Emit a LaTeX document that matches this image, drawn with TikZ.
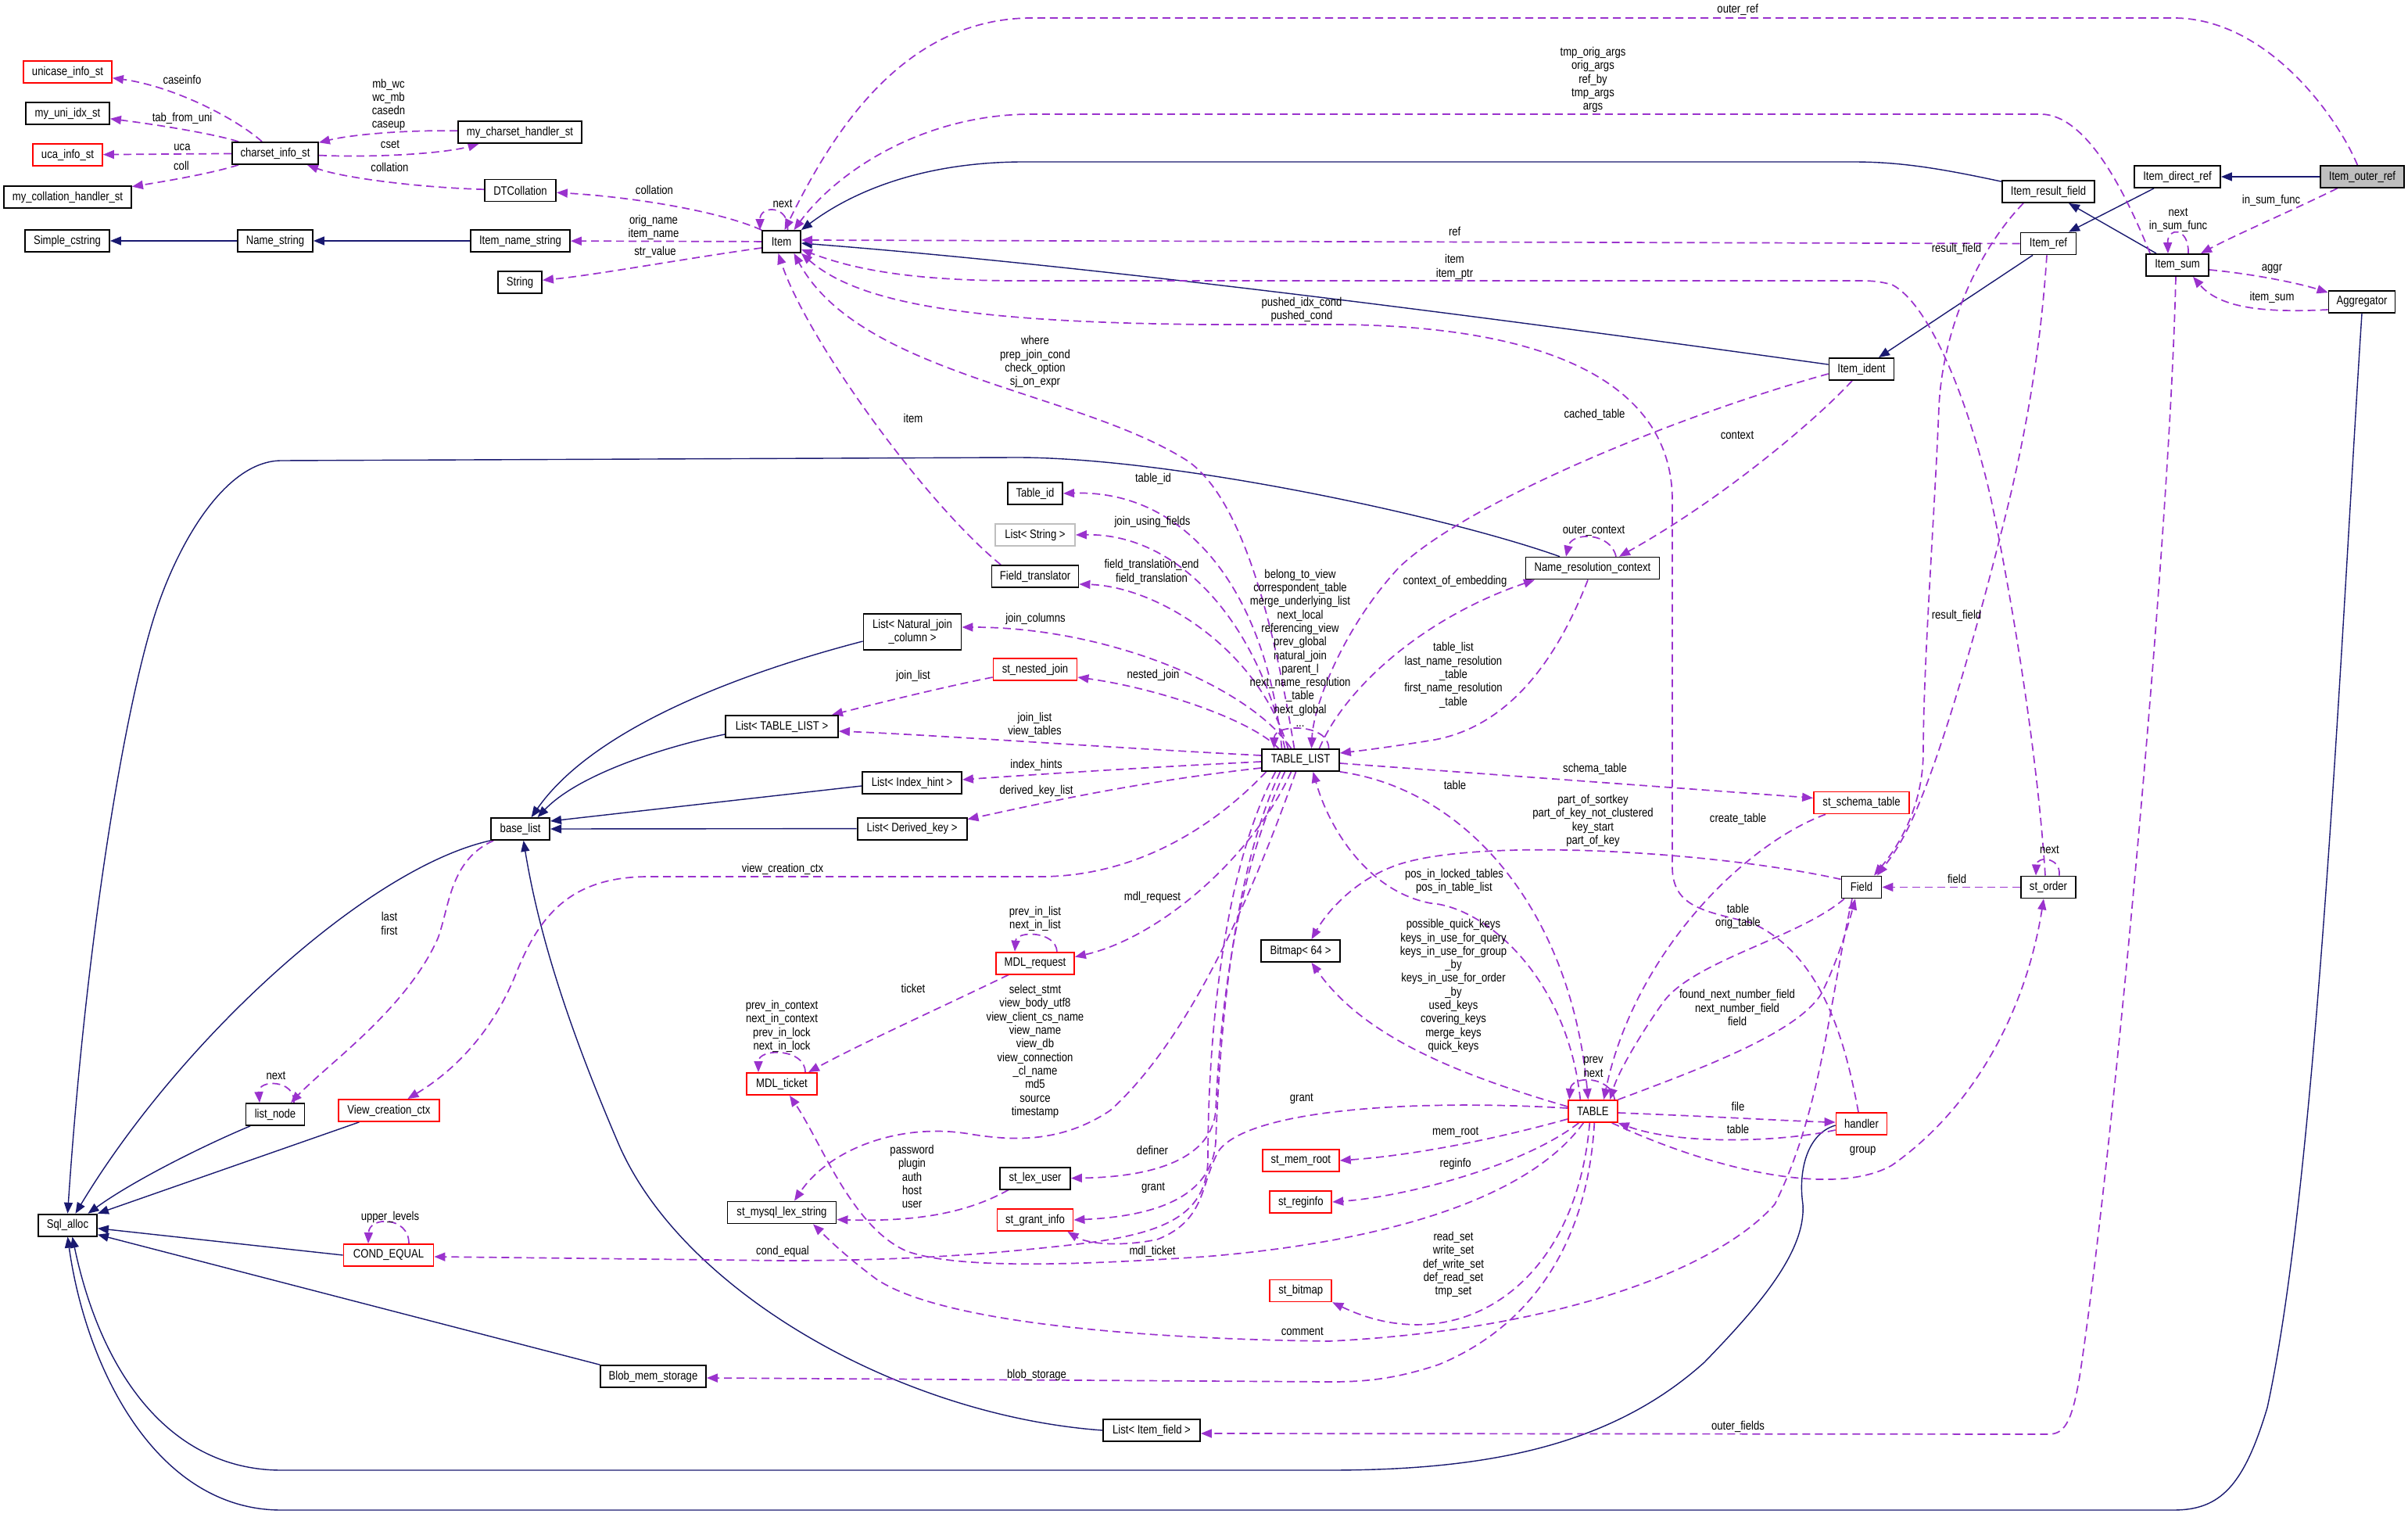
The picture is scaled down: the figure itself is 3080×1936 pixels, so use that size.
\documentclass[tikz,border=0pt]{standalone}
\usepackage{fontspec}
\setmainfont{Liberation Sans}[FakeStretch=0.84]
\usetikzlibrary{arrows.meta,calc}
\definecolor{navyc}{HTML}{191970}
\definecolor{purp}{HTML}{9A32CD}
\definecolor{redb}{HTML}{FF0000}
\definecolor{grayb}{HTML}{BFBFBF}
\newcommand\dfont{\fontsize{7.8pt}{8.65pt}\selectfont}
\pgfdeclarelayer{bgl}\pgfdeclarelayer{edgel}\pgfsetlayers{bgl,edgel,main}
\tikzset{
 cls/.style={draw=black, line width=0.9pt, fill=white, minimum height=14pt, inner sep=0pt, font=\dfont},
 redcls/.style={cls, draw=redb},
 lbl/.style={font=\dfont, align=center, inner sep=0pt},
 inh/.style={draw=navyc, line width=0.7pt, -{Triangle[length=7pt,width=5.5pt]}},
 dep/.style={draw=purp, line width=0.85pt, dash pattern=on 5pt off 3pt, -{Triangle[length=7pt,width=5.5pt]}},
}
\begin{document}
\begin{tikzpicture}[x=0.5pt,y=-0.5pt]
\begin{pgfonlayer}{bgl}\fill[white] (0,0) rectangle (3080,1936);\end{pgfonlayer}
\useasboundingbox (0,0) rectangle (3080,1936);
% ---------- nodes
\node[redcls, minimum width=56.5pt] (unicase) at (86.5,92) {unicase\_info\_st};
\node[cls, minimum width=53.5pt] (uniidx) at (86.5,145) {my\_uni\_idx\_st};
\node[redcls, minimum width=44.5pt] (uca) at (86.5,198) {uca\_info\_st};
\node[cls, minimum width=81.5pt] (collh) at (86.5,252) {my\_collation\_handler\_st};
\node[cls, minimum width=55pt] (charset) at (352,196) {charset\_info\_st};
\node[cls, minimum width=79pt] (csh) at (665,169) {my\_charset\_handler\_st};
\node[cls, minimum width=45.5pt] (dtc) at (665.5,243.5) {DTCollation};
\node[cls, minimum width=54pt] (scs) at (86,308) {Simple\_cstring};
\node[cls, minimum width=48pt] (nms) at (352,308) {Name\_string};
\node[cls, minimum width=63.5pt] (ins) at (665.5,308) {Item\_name\_string};
\node[cls, minimum width=28pt] (str) at (665,361) {String};
\node[cls, minimum width=24.5pt] (item) at (999.5,309) {Item};
\node[cls, minimum width=55pt] (idr) at (2785,226) {Item\_direct\_ref};
\node[cls, fill=grayb, minimum width=53.5pt] (ior) at (3021.5,226) {Item\_outer\_ref};
\node[cls, minimum width=59pt] (irf) at (2620,245) {Item\_result\_field};
\node[cls, minimum width=35.5pt] (iref) at (2620,311.5) {Item\_ref};
\node[cls, minimum width=40pt] (isum) at (2785,339) {Item\_sum};
\node[cls, minimum width=42.5pt] (aggr) at (3021,386) {Aggregator};
\node[cls, minimum width=41.5pt] (iid) at (2381,472) {Item\_ident};
\node[cls, minimum width=35pt] (tid) at (1324,631) {Table\_id};
\node[cls, draw=grayb, minimum width=51pt] (lstr) at (1324,684) {List< String >};
\node[cls, minimum width=55.5pt] (ftr) at (1324,737) {Field\_translator};
\node[cls, minimum width=85.5pt] (nrc) at (2037,726.6) {Name\_resolution\_context};
\node[cls, minimum width=62.5pt, minimum height=23pt, align=center] (lnjc) at (1167,808) {List< Natural\_join\\\_column >};
\node[redcls, minimum width=53.5pt] (snj) at (1324,856) {st\_nested\_join};
\node[cls, minimum width=72pt] (ltl) at (1000,929) {List< TABLE\_LIST >};
\node[cls, minimum width=49.5pt] (tl) at (1663.5,972) {TABLE\_LIST};
\node[cls, minimum width=63.5pt] (lih) at (1166.5,1001) {List< Index\_hint >};
\node[cls, minimum width=70pt] (ldk) at (1166.6,1059.6) {List< Derived\_key >};
\node[cls, minimum width=37.5pt] (bl) at (665.6,1060) {base\_list};
\node[cls, minimum width=50.5pt] (bmp) at (1663.5,1216) {Bitmap< 64 >};
\node[redcls, minimum width=61pt] (sst) at (2381,1026.4) {st\_schema\_table};
\node[cls, minimum width=25.5pt] (fld) at (2381,1134.4) {Field};
\node[cls, minimum width=35pt] (sord) at (2620,1134.4) {st\_order};
\node[redcls, minimum width=50pt] (mreq) at (1324,1231.6) {MDL\_request};
\node[redcls, minimum width=45pt] (mtk) at (1000,1386) {MDL\_ticket};
\node[cls, minimum width=37.5pt] (lnode) at (352,1425) {list\_node};
\node[redcls, minimum width=64.5pt] (vcc) at (497.4,1420) {View\_creation\_ctx};
\node[redcls, minimum width=31.5pt] (tbl) at (2037.3,1421) {TABLE};
\node[redcls, minimum width=32.5pt] (hdl) at (2381,1437) {handler};
\node[redcls, minimum width=49pt] (smr) at (1663.8,1484) {st\_mem\_root};
\node[cls, minimum width=45pt] (slu) at (1324,1506.6) {st\_lex\_user};
\node[redcls, minimum width=39.5pt] (sri) at (1663.8,1537) {st\_reginfo};
\node[cls, minimum width=69.5pt] (smls) at (1000,1550.5) {st\_mysql\_lex\_string};
\node[redcls, minimum width=48.5pt] (sgi) at (1324,1560) {st\_grant\_info};
\node[cls, minimum width=37.5pt] (sqa) at (86.5,1566.7) {Sql\_alloc};
\node[redcls, minimum width=57.5pt] (ceq) at (497,1605) {COND\_EQUAL};
\node[redcls, minimum width=39.5pt] (sbm) at (1663.8,1650.4) {st\_bitmap};
\node[cls, minimum width=67.5pt] (bms) at (835.5,1760) {Blob\_mem\_storage};
\node[cls, minimum width=62pt] (lif) at (1473,1829) {List< Item\_field >};
% ---------- labels
\node[lbl] (l1) at (233,102) {caseinfo};
\node[lbl] (l2) at (233,151) {tab\_from\_uni};
\node[lbl] (l3) at (233,188) {uca};
\node[lbl] (l4) at (232,212) {coll};
\node[lbl] (l5) at (497,134) {mb\_wc\\wc\_mb\\casedn\\caseup};
\node[lbl] (l6) at (499,185) {cset};
\node[lbl] (l7) at (498.5,214) {collation};
\node[lbl] (l8) at (837,242.5) {collation};
\node[lbl] (l9) at (1001,261) {next};
\node[lbl] (l10) at (836,291) {orig\_name\\item\_name};
\node[lbl] (l11) at (838,322.5) {str\_value};
\node[lbl] (l12) at (2222.7,12.4) {outer\_ref};
\node[lbl] (l13) at (2037.5,102.2) {tmp\_orig\_args\\orig\_args\\ref\_by\\tmp\_args\\args};
\node[lbl] (l14) at (1860.7,296.4) {ref};
\node[lbl] (l15) at (1860.5,341.4) {item\\item\_ptr};
\node[lbl] (l16) at (1665,396) {pushed\_idx\_cond\\pushed\_cond};
\node[lbl] (l17) at (2039.5,530.7) {cached\_table};
\node[lbl] (l18) at (2222,557) {context};
\node[lbl] (l19) at (1324,462.7) {where\\prep\_join\_cond\\check\_option\\sj\_on\_expr};
\node[lbl] (l20) at (1168,535) {item};
\node[lbl] (l21) at (1475,612) {table\_id};
\node[lbl] (l22) at (1474,667) {join\_using\_fields};
\node[lbl] (l23) at (1473,731.5) {field\_translation\_end\\field\_translation};
\node[lbl] (l24) at (1324.5,791) {join\_columns};
\node[lbl] (l25) at (1168,864) {join\_list};
\node[lbl] (l26) at (1475,863.5) {nested\_join};
\node[lbl] (l27) at (1323.5,927) {join\_list\\view\_tables};
\node[lbl] (l28) at (1325.5,978) {index\_hints};
\node[lbl] (l29) at (1325.5,1011.5) {derived\_key\_list};
\node[lbl] (l30) at (1001,1111.4) {view\_creation\_ctx};
\node[lbl] (l31) at (1474,1147.5) {mdl\_request};
\node[lbl] (l32) at (1324,1175) {prev\_in\_list\\next\_in\_list};
\node[lbl] (l33) at (1168,1263.5) {ticket};
\node[lbl] (l34) at (1324,1344.5) {select\_stmt\\view\_body\_utf8\\view\_client\_cs\_name\\view\_name\\view\_db\\view\_connection\\\_cl\_name\\md5\\source\\timestamp};
\node[lbl] (l35) at (1000,1312.3) {prev\_in\_context\\next\_in\_context\\prev\_in\_lock\\next\_in\_lock};
\node[lbl] (l36) at (1166.5,1504.7) {password\\plugin\\auth\\host\\user};
\node[lbl] (l37) at (1474,1470.5) {definer};
\node[lbl] (l38) at (1475,1519) {grant};
\node[lbl] (l39) at (1001,1600.7) {cond\_equal};
\node[lbl] (l40) at (1474,1600.7) {mdl\_ticket};
\node[lbl] (l41) at (1326,1758.6) {blob\_storage};
\node[lbl] (l42) at (2223,1824.6) {outer\_fields};
\node[lbl] (l43) at (499,1556) {upper\_levels};
\node[lbl] (l44) at (353,1376) {next};
\node[lbl] (l45) at (498,1181) {last\\first};
\node[lbl] (l46) at (2905,256.6) {in\_sum\_func};
\node[lbl] (l47) at (2786,281.3) {next\\in\_sum\_func};
\node[lbl] (l48) at (2906,344) {aggr};
\node[lbl] (l49) at (2906,380.6) {item\_sum};
\node[lbl] (l50) at (2502.5,318.4) {result\_field};
\node[lbl] (l51) at (2502.5,787) {result\_field};
\node[lbl] (l52) at (2038.5,678.6) {outer\_context};
\node[lbl] (l53) at (1861,743.6) {context\_of\_embedding};
\node[lbl] (l54) at (1663,828.75) {belong\_to\_view\\correspondent\_table\\merge\_underlying\_list\\next\_local\\referencing\_view\\prev\_global\\natural\_join\\parent\_l\\next\_name\_resolution\\\_table\\next\_global\\...};
\node[lbl] (l55) at (1859,863.3) {table\_list\\last\_name\_resolution\\\_table\\first\_name\_resolution\\\_table};
\node[lbl] (l56) at (2040,983) {schema\_table};
\node[lbl] (l57) at (1861,1004.4) {table};
\node[lbl] (l58) at (2037.5,1049.6) {part\_of\_sortkey\\part\_of\_key\_not\_clustered\\key\_start\\part\_of\_key};
\node[lbl] (l59) at (2223,1047.5) {create\_table};
\node[lbl] (l60) at (1860,1127) {pos\_in\_locked\_tables\\pos\_in\_table\_list};
\node[lbl] (l61) at (2223,1172) {table\\orig\_table};
\node[lbl] (l62) at (1859,1260.6) {possible\_quick\_keys\\keys\_in\_use\_for\_query\\keys\_in\_use\_for\_group\\\_by\\keys\_in\_use\_for\_order\\\_by\\used\_keys\\covering\_keys\\merge\_keys\\quick\_keys};
\node[lbl] (l63) at (2222,1288.7) {found\_next\_number\_field\\next\_number\_field\\field};
\node[lbl] (l64) at (2621.4,1086.5) {next};
\node[lbl] (l65) at (2503,1124) {field};
\node[lbl] (l66) at (2038,1364.3) {prev\\next};
\node[lbl] (l67) at (1664.8,1405) {grant};
\node[lbl] (l68) at (2223,1415) {file};
\node[lbl] (l69) at (1861.7,1447.7) {mem\_root};
\node[lbl] (l70) at (2223,1444.4) {table};
\node[lbl] (l71) at (1861.7,1488.3) {reginfo};
\node[lbl] (l72) at (1859,1617) {read\_set\\write\_set\\def\_write\_set\\def\_read\_set\\tmp\_set};
\node[lbl] (l73) at (1665.7,1702.7) {comment};
\node[lbl] (l74) at (2382.7,1471.7) {group};
% ---------- edges
\begin{pgfonlayer}{edgel}
% inheritance
\draw[inh] (nms) -- (scs);
\draw[inh] (ins) -- (nms);
\draw[inh] (irf) .. controls (2480,215) and (2430,207) .. (2370,207) -- (1310,207) .. controls (1180,207) and (1090,245) .. (item.north east);
\draw[inh] (iid) .. controls (1900,405) and (1400,340) .. ([yshift=-1pt]item.east);
\draw[inh] ([xshift=7pt]isum.north west) -- ([xshift=13pt]irf.south);
\draw[inh] ([xshift=-10pt]iref.south) -- ([xshift=11pt]iid.north);
\draw[inh] ([xshift=-15pt]idr.south) -- ([xshift=13pt]iref.north);
\draw[inh] (ior) -- (idr);
\draw[inh] ([xshift=-21pt]nrc.north) .. controls (1850,660) and (1500,585) .. (1300,585) -- (360,589) .. controls (290,589) and (230,690) .. (200,780) .. controls (160,900) and (110,1200) .. (sqa.north);
\draw[inh] ([xshift=-16pt]lnode.south) .. controls (260,1465) and (170,1510) .. ([xshift=13pt]sqa.north);
\draw[inh] ([xshift=-19pt]vcc.south) -- (sqa.north east);
\draw[inh] (ceq.west) -- ([yshift=-2pt]sqa.east);
\draw[inh] (bms.north west) -- ([yshift=-6pt]sqa.east);
\draw[inh] (bl.south west) .. controls (470,1110) and (230,1330) .. ([xshift=5pt]sqa.north);
\draw[inh] (lif.west) .. controls (1150,1810) and (870,1650) .. (790,1460) .. controls (730,1320) and (690,1200) .. ([xshift=2pt]bl.south);
\draw[inh] (aggr.south) .. controls (2995,800) and (2965,1500) .. (2900,1800) .. controls (2870,1900) and (2840,1931) .. (2780,1931) -- (360,1931) .. controls (200,1931) and (110,1750) .. (sqa.south);
\draw[inh] ([yshift=-1pt]hdl.west) .. controls (2310,1450) and (2300,1500) .. (2306,1540) .. controls (2310,1600) and (2250,1670) .. (2180,1742) .. controls (2060,1850) and (1900,1880) .. (1700,1880) -- (360,1880) .. controls (220,1880) and (130,1760) .. ([xshift=3pt]sqa.south);
\draw[inh] ([yshift=-6pt]lnjc.west) .. controls (950,860) and (760,930) .. ([xshift=7pt]bl.north);
\draw[inh] ([yshift=-5pt]ltl.west) .. controls (850,955) and (740,990) .. ([xshift=11pt]bl.north);
\draw[inh] ([yshift=-2pt]lih.west) -- ([yshift=5pt]bl.east);
\draw[inh] (ldk.west) -- (bl.east);
% charset group
\draw[dep] (charset) .. controls (300,150) and (220,110) .. (unicase);
\draw[dep] (charset) .. controls (270,170) and (190,158) .. (uniidx);
\draw[dep] (charset) -- (uca);
\draw[dep] (charset) .. controls (270,222) and (210,232) .. (collh);
\draw[dep] (csh) .. controls (520,166) and (450,172) .. (charset);
\draw[dep] (charset) .. controls (480,202) and (570,196) .. (csh);
\draw[dep] (dtc) .. controls (540,240) and (440,228) .. (charset);
% Item
\draw[dep] (item.north west) .. controls (920,270) and (810,252) .. (dtc);
\draw[dep] (item) -- (ins);
\draw[dep] ([yshift=-4pt]item.west) .. controls (880,330) and (760,352) .. (str);
\draw[dep] ([xshift=4pt]item.north) .. controls (1010,262) and (972,262) .. ([xshift=-1pt]item.north west);
\draw[dep] (ior) .. controls (2990,150) and (2900,23) .. (2780,23) -- (1320,23) .. controls (1150,23) and (1060,180) .. ([xshift=2pt]item.north);
\draw[dep] ([xshift=3pt]isum.north west) .. controls (2720,250) and (2670,146) .. (2610,146) -- (1320,146) .. controls (1180,146) and (1070,220) .. ([xshift=8pt]item.north);
\draw[dep] (iref.west) -- ([yshift=1pt]item.east);
\draw[dep] ([xshift=-2pt]sord.north) .. controls (2605,950) and (2570,750) .. (2547,640) .. controls (2520,520) and (2470,390) .. (2420,364) .. controls (2405,360) and (2395,359) .. (2380,359) -- (1300,359) .. controls (1150,359) and (1080,340) .. ([yshift=-5pt]item.east);
\draw[dep] ([xshift=-2pt]hdl.north) .. controls (2360,1330) and (2330,1220) .. (2240,1180) .. controls (2180,1165) and (2140,1160) .. (2139,1110) -- (2139,640) .. controls (2139,500) and (2000,415) .. (1700,415) -- (1540,415) .. controls (1250,412) and (1100,390) .. (item.south east);
\draw[dep] ([xshift=-4pt]tl.north) .. controls (1630,800) and (1590,640) .. (1520,590) .. controls (1380,500) and (1100,480) .. ([xshift=8pt]item.south);
\draw[dep] ([xshift=-22pt]ftr.north) .. controls (1180,640) and (1030,430) .. ([xshift=-2pt]item.south);
% Item family
\draw[dep] ([xshift=-16pt]ior.south) .. controls (2930,270) and (2860,300) .. ([xshift=15pt]isum.north);
\draw[dep] ([xshift=7pt]isum.north) .. controls (2800,290) and (2772,290) .. ([xshift=-6pt]isum.north);
\draw[dep] ([yshift=-3pt]isum.east) .. controls (2880,350) and (2940,362) .. ([yshift=-1.5pt]aggr.north west);
\draw[dep] ([yshift=-5pt]aggr.west) .. controls (2900,400) and (2840,395) .. ([xshift=10pt]isum.south);
\draw[dep] ([xshift=-16pt]irf.south) .. controls (2530,320) and (2485,420) .. (2480,520) .. controls (2475,650) and (2460,850) .. (2460,960) .. controls (2460,1030) and (2430,1080) .. ([xshift=8pt]fld.north);
\draw[dep] ([xshift=-1pt]iref.south) .. controls (2610,450) and (2590,560) .. (2565,660) .. controls (2530,800) and (2480,980) .. (2440,1060) .. controls (2425,1090) and (2412,1105) .. ([xshift=10pt]fld.north);
\draw[dep] ([xshift=-1pt]isum.south) .. controls (2775,700) and (2700,1500) .. (2660,1760) .. controls (2650,1820) and (2640,1834) .. (2620,1834) -- ([yshift=-2pt]lif.east);
\draw[dep] ([xshift=-6pt]iid.south) .. controls (2320,540) and (2200,640) .. ([xshift=17pt]nrc.north);
\draw[dep] ([yshift=-3pt]iid.west) .. controls (2150,530) and (1880,640) .. (1790,725) .. controls (1720,800) and (1680,900) .. ([xshift=7pt]tl.north);
% name resolution / table list
\draw[dep] ([xshift=15pt]nrc.north) .. controls (2060,680) and (2010,680) .. ([xshift=-17pt]nrc.north);
\draw[dep] ([xshift=12pt]tl.north) .. controls (1720,880) and (1820,790) .. ([xshift=-37pt]nrc.south);
\draw[dep] ([xshift=-3pt]nrc.south) .. controls (1985,860) and (1920,930) .. (1835,946) .. controls (1780,955) and (1740,960) .. ([yshift=4.5pt]tl.east);
\draw[dep] ([xshift=18pt]tl.north) .. controls (1700,925) and (1630,925) .. ([xshift=-17pt]tl.north);
\draw[dep] ([xshift=-12pt]tl.north) .. controls (1620,760) and (1520,626) .. (tid.east);
\draw[dep] ([xshift=-10pt]tl.north) .. controls (1610,800) and (1510,682) .. (lstr.east);
\draw[dep] ([xshift=-8pt]tl.north) .. controls (1610,830) and (1480,750) .. ([yshift=-5pt]ftr.east);
\draw[dep] ([xshift=-6pt]tl.north) .. controls (1600,880) and (1420,802) .. ([yshift=3pt]lnjc.east);
\draw[dep] ([xshift=-14pt]tl.north) .. controls (1600,920) and (1480,880) .. ([yshift=-5pt]snj.east);
\draw[dep] ([yshift=-5pt]snj.west) .. controls (1200,880) and (1120,900) .. ([xshift=32pt]ltl.north);
\draw[dep] ([yshift=3pt]tl.west) .. controls (1400,955) and (1200,940) .. ([yshift=-3pt]ltl.east);
\draw[dep] ([yshift=-1pt]tl.west) .. controls (1450,982) and (1300,992) .. ([yshift=2pt]lih.east);
\draw[dep] ([yshift=-5pt]tl.west) .. controls (1450,1000) and (1320,1030) .. ([yshift=6pt]ldk.east);
\draw[dep] ([xshift=-22pt]tl.south) .. controls (1560,1050) and (1460,1121) .. (1330,1121) -- (830,1121) .. controls (730,1121) and (690,1170) .. (660,1245) .. controls (630,1320) and (580,1370) .. ([xshift=12pt]vcc.north);
\draw[dep] ([xshift=2pt]bl.south west) .. controls (575,1100) and (575,1160) .. (560,1200) .. controls (520,1290) and (420,1360) .. ([xshift=10pt]lnode.north);
\draw[dep] ([xshift=12pt]lnode.north) .. controls (378,1380) and (330,1380) .. ([xshift=-10pt]lnode.north);
\draw[dep] ([xshift=13pt]ceq.north) .. controls (523,1555) and (472,1555) .. ([xshift=-13pt]ceq.north);
\draw[dep] ([xshift=-6pt]tl.south) .. controls (1600,1100) and (1480,1200) .. ([yshift=4pt]mreq.east);
\draw[dep] ([xshift=14pt]mreq.north) .. controls (1350,1190) and (1300,1190) .. ([xshift=-13pt]mreq.north);
\draw[dep] ([xshift=-17pt]mreq.south) .. controls (1200,1290) and (1100,1335) .. ([xshift=17pt]mtk.north);
\draw[dep] ([xshift=15pt]mtk.north) .. controls (1030,1340) and (970,1340) .. ([xshift=-15pt]mtk.north);
\draw[dep] ([xshift=-3pt]tl.south) .. controls (1600,1150) and (1520,1330) .. (1420,1420) .. controls (1360,1460) and (1300,1460) .. (1240,1450) .. controls (1150,1435) and (1060,1470) .. ([xshift=8pt]smls.north);
\draw[dep] ([xshift=-10pt]tl.south) .. controls (1580,1120) and (1560,1300) .. (1555,1420) .. controls (1550,1480) and (1480,1505) .. (slu.east);
\draw[dep] ([xshift=-13pt]tl.south) .. controls (1575,1120) and (1560,1330) .. (1555,1460) .. controls (1550,1530) and (1480,1555) .. (sgi.east);
\draw[dep] ([xshift=-16pt]tl.south) .. controls (1560,1120) and (1545,1350) .. (1545,1480) .. controls (1545,1560) and (1480,1580) .. (1360,1593) .. controls (1250,1605) and (1150,1612) .. (1000,1612) -- ([yshift=-1pt]ceq.east);
\draw[dep] ([xshift=-17pt]slu.south) .. controls (1230,1555) and (1160,1562) .. ([yshift=-4.5pt]smls.east);
% TABLE
\draw[dep] (tl.south east) .. controls (1880,1010) and (2010,1170) .. ([xshift=-3pt]tbl.north);
\draw[dep] ([xshift=-8pt]tbl.north) .. controls (2005,1250) and (1900,1160) .. (1830,1155) .. controls (1750,1140) and (1700,1060) .. ([xshift=8pt]tl.south);
\draw[dep] ([yshift=3pt]tbl.west) .. controls (1850,1370) and (1740,1320) .. ([xshift=7pt]bmp.south);
\draw[dep] ([yshift=5pt]fld.west) .. controls (2200,1090) and (1900,1070) .. (1790,1105) .. controls (1730,1125) and (1695,1170) .. ([xshift=7pt]bmp.north);
\draw[dep] ([xshift=-23pt]sst.south) .. controls (2230,1080) and (2090,1220) .. ([xshift=7pt]tbl.north);
\draw[dep] ([yshift=-2pt]tl.east) -- ([yshift=3pt]sst.west);
\draw[dep] ([xshift=-11pt]fld.south) .. controls (2300,1200) and (2160,1230) .. (2125,1285) .. controls (2100,1320) and (2070,1370) .. ([xshift=11pt]tbl.north);
\draw[dep] (tbl.north east) .. controls (2180,1365) and (2300,1320) .. (2330,1270) .. controls (2350,1230) and (2365,1180) .. ([xshift=-4pt]fld.south);
\draw[dep] ([xshift=14pt]tbl.north) .. controls (2060,1375) and (2010,1375) .. ([xshift=-15pt]tbl.north);
\draw[dep] ([yshift=-5pt]tbl.west) .. controls (1900,1460) and (1800,1478) .. (smr.east);
\draw[dep] ([xshift=-9pt]tbl.south) .. controls (1950,1490) and (1800,1530) .. (sri.east);
\draw[dep] ([xshift=-2pt]tbl.south) .. controls (2015,1650) and (1860,1740) .. (sbm.south east);
\draw[dep] ([xshift=-6pt]tbl.south) .. controls (1950,1540) and (1750,1590) .. (1540,1607) .. controls (1400,1616) and (1230,1625) .. (1160,1600) .. controls (1090,1570) and (1050,1460) .. ([xshift=5pt]mtk.south);
\draw[dep] ([xshift=1pt]tbl.south) .. controls (2030,1600) and (1950,1700) .. (1840,1745) .. controls (1780,1765) and (1740,1767) .. (1700,1767) -- ([yshift=-1pt]bms.east);
\draw[dep] ([yshift=2pt]tbl.west) .. controls (1800,1405) and (1600,1420) .. (1560,1470) .. controls (1535,1510) and (1545,1560) .. (1480,1585) .. controls (1430,1595) and (1390,1590) .. ([xshift=-4pt]sgi.south east);
\draw[dep] ([yshift=-1pt]tbl.east) .. controls (2200,1428) and (2300,1434) .. ([yshift=1pt]hdl.west);
\draw[dep] ([yshift=-4pt]hdl.west) .. controls (2280,1460) and (2150,1465) .. (tbl.south east);
\draw[dep] ([xshift=-4pt]tbl.south east) .. controls (2200,1500) and (2350,1530) .. (2420,1490) .. controls (2520,1420) and (2590,1300) .. ([xshift=-3pt]sord.south);
\draw[dep] (sord.west) -- (fld.east);
\draw[dep] ([xshift=7pt]sord.north) .. controls (2636,1095) and (2605,1095) .. ([xshift=-8pt]sord.north);
\draw[dep] ([xshift=-6pt]fld.south) .. controls (2340,1280) and (2330,1420) .. (2270,1540) .. controls (2200,1620) and (2000,1700) .. (1700,1715) .. controls (1450,1712) and (1200,1690) .. (1120,1635) .. controls (1080,1605) and (1060,1585) .. ([xshift=20pt]smls.south);
\end{pgfonlayer}
\end{tikzpicture}
\end{document}
